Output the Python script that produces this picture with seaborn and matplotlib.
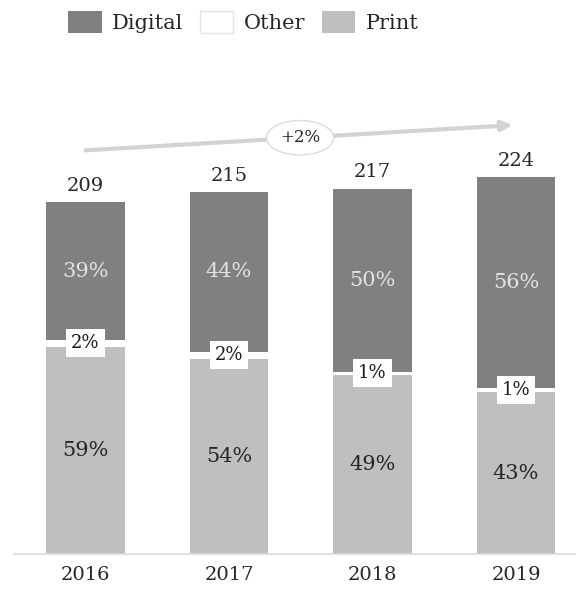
import numpy as np
import pandas as pd
import matplotlib
matplotlib.use('Agg')
import matplotlib.pyplot as plt
from matplotlib.patches import Patch
import seaborn as sns

# chart data
years = ['2016', '2017', '2018', '2019']
totals = [209, 215, 217, 224]
print_pct = [59, 54, 49, 43]
other_pct = [2, 2, 1, 1]
digital_pct = [39, 44, 50, 56]
trend_label = '+2%'

digital_color = '#808080'
other_color = '#ffffff'
print_color = '#bfbfbf'

sns.set_theme(style='white')
plt.rcParams['font.family'] = ['DejaVu Serif']

df = pd.DataFrame({'year': years, 'total': totals,
                   'print': print_pct, 'other': other_pct, 'digital': digital_pct})
df['print_val'] = df['total'] * df['print'] / 100
df['other_val'] = df['total'] * df['other'] / 100
df['print_other'] = df['print_val'] + df['other_val']

fig = plt.figure(figsize=(5.76, 5.91), dpi=100)
ax = fig.add_axes([14 / 576, 37 / 591, 1 - 14 / 576, 1 - 37 / 591])

# stacked bars drawn as overlapping cumulative bars
sns.barplot(data=df, x='year', y='total', color=digital_color, saturation=1,
            width=0.55, linewidth=0, ax=ax)
sns.barplot(data=df, x='year', y='print_other', color=other_color, saturation=1,
            width=0.55, linewidth=0, ax=ax)
sns.barplot(data=df, x='year', y='print_val', color=print_color, saturation=1,
            width=0.55, linewidth=0, ax=ax)

ax.set_xlim(-0.498, 3.418)
ax.set_ylim(0, 329.4)

for i, row in df.iterrows():
    # total above bar
    ax.annotate(str(row['total']), (i, row['total']), xytext=(0, 12),
                textcoords='offset points', ha='center', va='center',
                fontsize=14, color='#262626')
    # digital share
    ax.text(i, (row['print_other'] + row['total']) / 2, f"{row['digital']}%",
            ha='center', va='center', fontsize=15, color='#e3e3e3')
    # other share in a white box
    ax.text(i, (row['print_val'] + row['print_other']) / 2, f"{row['other']}%",
            ha='center', va='center', fontsize=13, color='#1a1a1a',
            bbox=dict(boxstyle='square,pad=0.28', fc='white', ec='none'))
    # print share
    ax.text(i, row['print_val'] / 2, f"{row['print']}%",
            ha='center', va='center', fontsize=15, color='#262626')

# growth arrow
ax.annotate('', xy=(2.98, 255), xytext=(0.0, 240),
            arrowprops=dict(arrowstyle='-|>,head_length=0.55,head_width=0.25',
                            color='#d3d3d3', lw=3.0, shrinkA=0, shrinkB=0))
ax.text(1.495, 247.5, trend_label, ha='center', va='center', fontsize=12,
        color='#262626',
        bbox=dict(boxstyle='ellipse,pad=0.22', fc='white', ec='#dcdcdc', lw=1))

ax.set_xlabel('')
ax.set_ylabel('')
ax.set_yticks([])
ax.tick_params(axis='x', length=0, pad=9, labelsize=14, colors='#262626')
for side in ['top', 'left', 'right']:
    ax.spines[side].set_visible(False)
ax.spines['bottom'].set_color('#dadada')
ax.spines['bottom'].set_linewidth(1.2)

handles = [Patch(facecolor=digital_color, edgecolor='none', label='Digital'),
           Patch(facecolor=other_color, edgecolor='#e3e3e3', label='Other'),
           Patch(facecolor=print_color, edgecolor='none', label='Print')]
fig.legend(handles=handles, loc='center', bbox_to_anchor=(243.5 / 576, 1 - 22 / 591),
           ncol=3, frameon=False, fontsize=15, handlelength=1.6, handleheight=1.3,
           handletextpad=0.5, columnspacing=0.8, labelcolor='#262626')

fig.savefig('out.png', dpi=100)
